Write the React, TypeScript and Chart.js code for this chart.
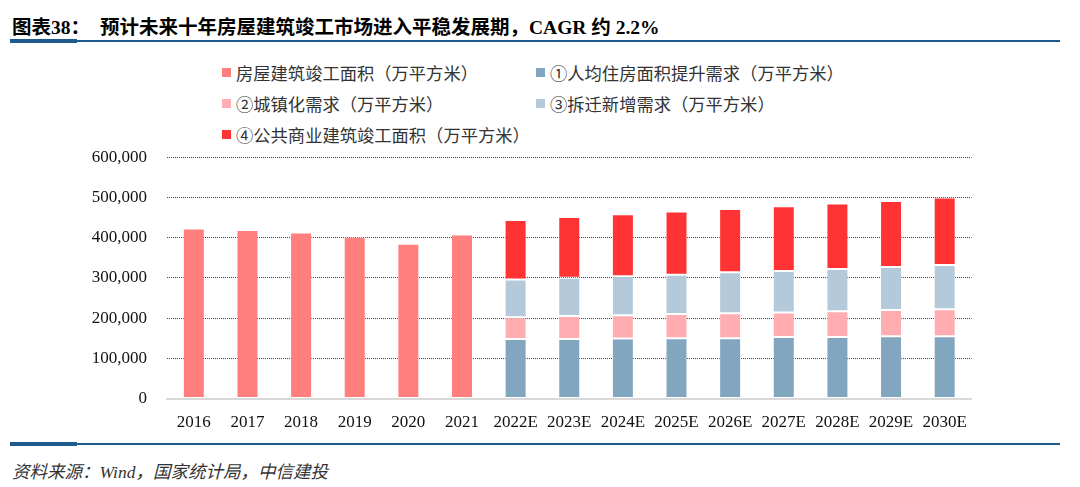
import React, { useEffect, useRef } from "react";
import { Chart, registerables } from "chart.js";

Chart.register(...registerables);

const categories = ["2016", "2017", "2018", "2019", "2020", "2021", "2022E", "2023E", "2024E", "2025E", "2026E", "2027E", "2028E", "2029E", "2030E"];
const completedArea = [423000, 419000, 413000, 402000, 385000, 408000, null, null, null, null, null, null, null, null, null];
const perCapitaDemand = [null, null, null, null, null, null, 148000, 148000, 149000, 150000, 150000, 153000, 153000, 155000, 155000];
const urbanDemand = [null, null, null, null, null, null, 54000, 57000, 58000, 60000, 62000, 61000, 64000, 65000, 67000];
const demolitionDemand = [null, null, null, null, null, null, 94000, 95000, 97000, 98000, 102000, 103000, 105000, 107000, 110000];
const publicCommercial = [null, null, null, null, null, null, 148000, 151000, 154000, 157000, 157000, 161000, 163000, 164000, 168000];
const seriesLabels = [
  "房屋建筑竣工面积（万平方米）",
  "①人均住房面积提升需求（万平方米）",
  "②城镇化需求（万平方米）",
  "③拆迁新增需求（万平方米）",
  "④公共商业建筑竣工面积（万平方米）",
];
const seriesColors = ["#FF7F7F", "#82A6BF", "#FFADB0", "#B4CADA", "#FF3333"];
const yTicks = [0, 100000, 200000, 300000, 400000, 500000, 600000];

const TITLE_A = "图表38：";
const TITLE_B = "预计未来十年房屋建筑竣工市场进入平稳发展期，CAGR 约 2.2%";
const SOURCE = "资料来源：Wind，国家统计局，中信建投";

export default function App() {
  const canvasRef = useRef<HTMLCanvasElement | null>(null);

  useEffect(() => {
    const canvas = canvasRef.current;
    if (!canvas) return;
    const values = [completedArea, perCapitaDemand, urbanDemand, demolitionDemand, publicCommercial];
    const chart = new Chart(canvas, {
      type: "bar",
      data: {
        labels: categories,
        datasets: values.map((d, i) => ({
          label: seriesLabels[i],
          data: d,
          backgroundColor: seriesColors[i],
          borderColor: "rgba(255,255,255,0.35)",
          borderWidth: 1,
          borderSkipped: false,
          barPercentage: 0.41,
          categoryPercentage: 1,
          stack: "s",
        })),
      },
      options: {
        responsive: false,
        animation: false,
        layout: { padding: { top: 4, right: 108.5, left: 0, bottom: 0 } },
        plugins: {
          legend: { display: false },
          tooltip: { enabled: false },
        },
        scales: {
          x: {
            stacked: true,
            grid: { display: false },
            border: { display: true, color: "#D9D9D9", width: 2 },
            ticks: {
              color: "#111",
              padding: 6,
              font: { family: "'Liberation Serif', 'Times New Roman', serif", size: 17 },
            },
            afterFit: (scale: any) => {
              scale.height = 41.5;
            },
          },
          y: {
            stacked: true,
            min: 0,
            max: 600000,
            afterBuildTicks: (scale: any) => {
              scale.ticks = yTicks.map((v) => ({ value: v }));
            },
            grid: {
              drawTicks: false,
              color: (ctx: any) => (ctx.tick && ctx.tick.value === 0 ? "rgba(0,0,0,0)" : "#444"),
              lineWidth: 1,
            },
            border: { display: false, dash: [1, 1] },
            ticks: {
              color: "#111",
              padding: 20,
              font: { family: "'Liberation Serif', 'Times New Roman', serif", size: 17 },
              callback: (v: any) => Number(v).toLocaleString("en-US"),
            },
            afterFit: (scale: any) => {
              scale.width = 167;
            },
          },
        },
      },
    } as any);
    return () => chart.destroy();
  }, []);

  const legendPos = [
    { left: 222, top: 72 },
    { left: 536, top: 72 },
    { left: 222, top: 103 },
    { left: 536, top: 103 },
    { left: 222, top: 134 },
  ];

  return (
    <div style={{ position: "absolute", left: 0, top: 0, width: 1080, height: 487, background: "#fff", overflow: "hidden" }}>
      <div
        style={{
          position: "absolute",
          left: 12,
          top: 16,
          fontFamily: "'Liberation Serif', 'Noto Sans CJK SC', serif",
          fontWeight: 700,
          fontSize: 19.5,
          lineHeight: "24px",
          color: "#000",
          whiteSpace: "nowrap",
        }}
      >
        <span>{TITLE_A}</span>
        <span style={{ marginLeft: 10 }}>{TITLE_B}</span>
      </div>
      <div style={{ position: "absolute", left: 10, top: 40, width: 1050, height: 2, background: "#1F5A8E" }} />
      <div style={{ position: "absolute", left: 10, top: 39, width: 67, height: 4, background: "#1F5A8E" }} />

      {seriesLabels.map((lab, i) => (
        <div
          key={i}
          style={{
            position: "absolute",
            left: legendPos[i].left,
            top: legendPos[i].top - 11,
            height: 22,
            display: "flex",
            alignItems: "center",
            whiteSpace: "nowrap",
            fontFamily: "'Noto Sans CJK SC', sans-serif",
            fontSize: 17.3,
            color: "#333",
          }}
        >
          <span style={{ display: "inline-block", width: 9, height: 9, background: seriesColors[i], marginRight: 5 }} />
          <span>{lab}</span>
        </div>
      ))}

      <canvas ref={canvasRef} width={1080} height={313} style={{ position: "absolute", left: 0, top: 127, width: 1080, height: 313 }} />

      <div style={{ position: "absolute", left: 10, top: 443, width: 1050, height: 2, background: "#1F5A8E" }} />
      <div style={{ position: "absolute", left: 10, top: 442, width: 67, height: 4, background: "#1F5A8E" }} />
      <div
        style={{
          position: "absolute",
          left: 12,
          top: 460,
          fontFamily: "'Liberation Serif', 'Noto Sans CJK SC', serif",
          fontStyle: "italic",
          fontSize: 17.5,
          lineHeight: "24px",
          color: "#333",
          whiteSpace: "nowrap",
        }}
      >
        {SOURCE}
      </div>
    </div>
  );
}
